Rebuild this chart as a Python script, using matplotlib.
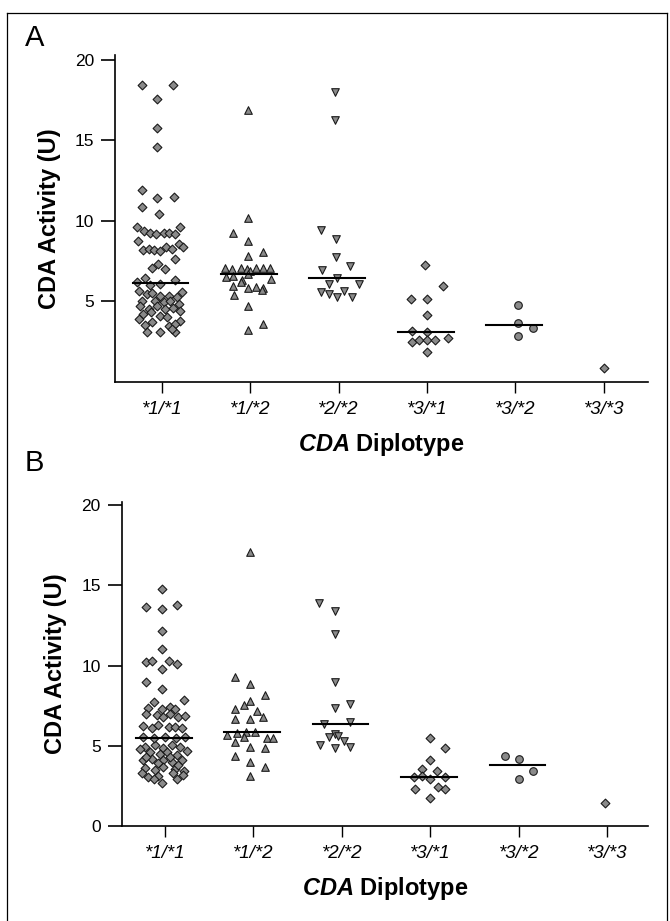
import numpy as np
import matplotlib
matplotlib.use("Agg")
import matplotlib.pyplot as plt
from matplotlib.lines import Line2D
from matplotlib import font_manager

plt.rcParams['font.family'] = ['Liberation Sans', 'DejaVu Sans']
names = {f.name for f in font_manager.fontManager.ttflist}
label_font = 'Liberation Sans Narrow' if 'Liberation Sans Narrow' in names else 'Liberation Sans'
plt.rcParams['mathtext.fontset'] = 'custom'
plt.rcParams['mathtext.it'] = label_font + ':italic:bold'

labels = ["*1/*1", "*1/*2", "*2/*2", "*3/*1", "*3/*2", "*3/*3"]

# ---- panel A: values and horizontal jitter
a_11 = [18.45, 18.45, 17.57, 15.77, 14.6, 11.89, 11.44, 11.5, 10.86, 10.41,
        9.62, 9.37, 9.27, 9.17, 9.27, 9.27, 9.17, 9.62, 8.76, 8.2,
        8.24, 8.2, 8.14, 8.34, 8.24, 8.55, 8.34, 7.62, 7.04, 7.31,
        7.0, 6.42, 6.2, 6.0, 6.07, 6.34, 5.66, 5.45, 5.5, 5.35,
        5.3, 5.25, 5.56, 5.04, 5.0, 4.94, 5.04, 4.83, 4.73, 4.53,
        4.7, 4.53, 4.6, 4.42, 4.22, 4.3, 4.11, 4.01, 3.91, 3.8,
        3.7, 3.5, 3.45, 3.6, 3.08, 3.08, 3.08, 3.3]
a_11_dx = [-0.23, 0.13, -0.05, -0.05, -0.05, -0.22, -0.05, 0.14, -0.22, -0.03,
           -0.28, -0.2, -0.13, -0.07, 0.02, 0.08, 0.15, 0.21, -0.27, -0.21,
           -0.15, -0.09, -0.02, 0.05, 0.11, 0.19, 0.24, 0.15, -0.11, -0.04,
           0.04, -0.19, -0.28, -0.13, -0.02, 0.15, -0.26, -0.17, -0.11, -0.02,
           0.08, 0.17, 0.23, -0.23, -0.08, 0.02, 0.09, 0.19, -0.25, -0.15,
           -0.06, 0.04, 0.13, 0.21, -0.21, -0.12, -0.02, 0.06, -0.26, 0.21,
           -0.11, -0.19, 0.08, 0.15, -0.17, -0.02, 0.15, 0.11]
a_12 = [16.86, 10.2, 9.27, 8.76, 7.83, 8.07, 7.04, 7.0, 7.04, 7.0,
        7.04, 7.04, 7.04, 6.9, 6.5, 6.55, 6.7, 6.38, 6.3, 5.97,
        6.18, 5.8, 5.9, 5.8, 5.4, 5.68, 4.73, 3.19, 3.6]
a_12_dx = [-0.02, -0.02, -0.19, -0.02, -0.02, 0.14, -0.28, -0.21, -0.11, -0.04,
           0.06, 0.14, 0.22, 0.0, -0.27, -0.19, -0.02, 0.23, -0.09, -0.2,
           -0.1, -0.02, 0.06, 0.14, -0.18, 0.13, -0.02, -0.02, 0.14]
a_22 = [17.98, 16.29, 9.44, 8.86, 7.73, 7.2, 6.96, 6.45, 6.07, 6.07,
        5.56, 5.66, 5.25, 5.25, 5.45]
a_22_dx = [-0.04, -0.04, -0.2, -0.03, -0.03, 0.13, -0.19, -0.02, -0.11, 0.23,
           -0.2, 0.06, -0.02, 0.15, -0.11]
a_31 = [7.23, 5.93, 5.12, 5.12, 4.17, 3.15, 3.06, 2.48, 2.57, 2.57, 2.57, 2.7, 1.86]
a_31_dx = [-0.02, 0.18, -0.18, 0.0, 0.0, -0.17, 0.0, -0.17, -0.09, 0.0, 0.09, 0.24, 0.0]
a_32 = [4.75, 3.66, 3.35, 2.83]
a_32_dx = [0.03, 0.03, 0.2, 0.03]
a_33 = [0.83]
a_33_dx = [0.0]

# ---- panel B
b_11 = [14.78, 13.67, 13.55, 13.8, 12.16, 11.03, 10.2, 10.3, 10.3, 10.1,
        9.79, 8.97, 8.56, 7.84, 7.7, 7.35, 7.3, 7.45, 7.3, 7.0,
        6.9, 6.8, 7.0, 6.8, 6.85, 6.25, 6.1, 6.3, 6.2, 6.2,
        6.1, 5.55, 5.55, 5.55, 4.95, 5.05, 4.85, 5.05, 4.95, 4.6,
        4.5, 4.6, 4.4, 4.1, 4.2, 4.1, 4.0, 4.1, 3.6, 3.5,
        3.65, 3.55, 3.45, 3.05, 3.1, 3.3, 2.7, 2.9, 4.8, 4.7,
        4.3, 4.3, 3.9, 3.8, 3.3, 3.2, 2.95, 5.5, 5.5]
b_11_dx = [-0.04, -0.21, -0.04, 0.13, -0.04, -0.04, -0.21, -0.15, 0.04, 0.13,
           -0.04, -0.21, -0.04, 0.21, -0.13, -0.19, -0.04, 0.06, 0.11, -0.21,
           -0.09, -0.02, 0.06, 0.15, 0.23, -0.25, -0.15, -0.08, 0.04, 0.11,
           0.19, -0.25, 0.0, 0.23, -0.23, -0.11, -0.02, 0.08, 0.17, -0.17,
           -0.06, 0.02, 0.13, -0.25, -0.15, -0.02, 0.08, 0.19, -0.23, -0.11,
           -0.02, 0.11, 0.21, -0.19, -0.08, 0.09, -0.04, 0.13, -0.28, 0.25,
           -0.21, 0.06, -0.08, 0.15, -0.26, 0.2, -0.13, -0.12, 0.12]
b_12 = [17.1, 9.28, 8.87, 8.14, 7.32, 7.53, 7.77, 7.2, 6.8, 6.7,
        6.7, 5.67, 5.8, 5.85, 5.85, 5.46, 5.46, 5.57, 5.26, 4.95,
        4.85, 4.39, 4.0, 3.7, 3.1]
b_12_dx = [-0.04, -0.21, -0.04, 0.13, -0.21, -0.11, -0.04, 0.04, 0.11, -0.21,
           -0.04, -0.3, -0.19, -0.08, 0.02, 0.15, 0.22, -0.11, -0.21, -0.04,
           0.13, -0.21, -0.04, 0.13, -0.04]
b_22 = [13.92, 13.4, 11.96, 8.97, 7.36, 7.63, 6.35, 6.5, 5.71, 5.6,
        5.57, 5.3, 5.05, 4.85, 4.95]
b_22_dx = [-0.26, -0.08, -0.08, -0.08, -0.08, 0.09, -0.2, 0.09, -0.08, -0.04,
           -0.15, 0.02, -0.25, -0.08, 0.09]
b_31 = [5.51, 4.86, 4.12, 3.56, 3.46, 3.04, 3.04, 2.9, 3.1, 2.45, 2.3, 2.3, 1.75]
b_31_dx = [0.0, 0.17, 0.0, -0.09, 0.075, -0.19, 0.17, 0.0, -0.1, 0.09, 0.17, -0.17, 0.0]
b_32 = [4.38, 4.17, 3.46, 2.95]
b_32_dx = [-0.16, 0.0, 0.16, 0.0]
b_33 = [1.44]
b_33_dx = [-0.03]

markers = ['D', '^', 'v', 'D', 'o', 'D']
sizes = [20, 30, 30, 20, 30, 20]

W, H = 670, 921
fig = plt.figure(figsize=(W / 100, H / 100), dpi=100)


def panel(rect, groups, xlim, ylim, show_zero):
    ax = fig.add_axes(rect)
    for i, (vals, dx) in enumerate(groups):
        x = i + 1 + np.array(dx)
        ax.scatter(x, vals, marker=markers[i], s=sizes[i], facecolor='#8a8a8a',
                   edgecolor='#1a1a1a', linewidths=0.8, zorder=3)
        med = np.median(vals)
        if len(vals) > 1:
            ax.plot([i + 1 - 0.33, i + 1 + 0.3], [med, med], color='black', lw=1.5, zorder=4)
    ax.set_xlim(*xlim)
    ax.set_ylim(*ylim)
    ax.spines['top'].set_visible(False)
    ax.spines['right'].set_visible(False)
    ax.spines['left'].set_linewidth(1.2)
    ax.spines['bottom'].set_linewidth(1.2)
    ax.set_xticks(range(1, 7))
    ax.set_xticklabels(labels, fontsize=13.5, style='italic')
    if show_zero:
        ax.set_yticks([0, 5, 10, 15, 20])
    else:
        ax.set_yticks([5, 10, 15, 20])
    ax.tick_params(axis='y', length=10, width=1.2, pad=5, labelsize=12.5)
    ax.tick_params(axis='x', length=8, width=1.0, pad=6)
    ax.set_ylabel('CDA Activity (U)', fontsize=17, fontweight='bold',
                  family=label_font, labelpad=10)
    ax.set_xlabel(r'$\mathit{CDA}$ Diplotype', fontsize=17, fontweight='bold',
                  family=label_font, labelpad=9)
    return ax


ax_a = panel([115 / W, 1 - 381.7 / H, (648 - 115) / W, (381.7 - 55) / H],
             [(a_11, a_11_dx), (a_12, a_12_dx), (a_22, a_22_dx),
              (a_31, a_31_dx), (a_32, a_32_dx), (a_33, a_33_dx)],
             (0.47, 6.5), (0, 20.3), False)
ax_b = panel([121.7 / W, 1 - 826 / H, (648 - 121.7) / W, (826 - 502) / H],
             [(b_11, b_11_dx), (b_12, b_12_dx), (b_22, b_22_dx),
              (b_31, b_31_dx), (b_32, b_32_dx), (b_33, b_33_dx)],
             (0.51, 6.46), (0, 20.2), True)

fig.text(25 / W, 1 - 38 / H, 'A', fontsize=21, va='center')
fig.text(25 / W, 1 - 463 / H, 'B', fontsize=21, va='center')

# frame around the figure (left, top, right)
fig.add_artist(Line2D([7 / W, 7 / W], [0, 1 - 13 / H], color='black', lw=0.9))
fig.add_artist(Line2D([7 / W, 667 / W], [1 - 13 / H, 1 - 13 / H], color='black', lw=0.9))
fig.add_artist(Line2D([667 / W, 667 / W], [0, 1 - 13 / H], color='black', lw=0.9))

fig.savefig('out.png', dpi=100)
